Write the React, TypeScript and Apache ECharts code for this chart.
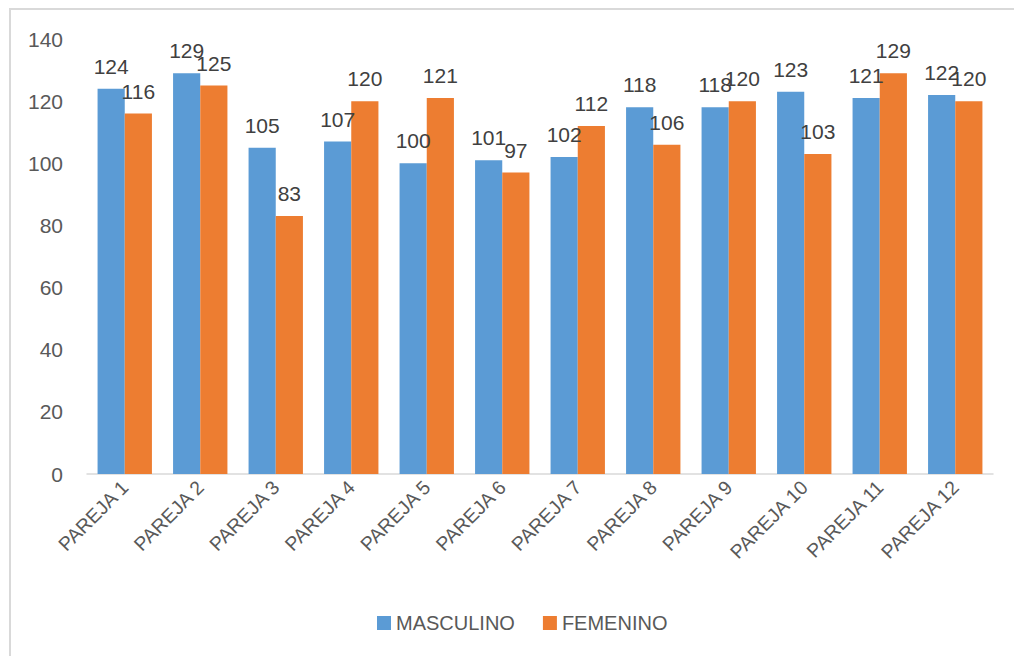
import React, { useEffect, useRef } from "react";
import * as echarts from "echarts";

const categories = ["PAREJA 1", "PAREJA 2", "PAREJA 3", "PAREJA 4", "PAREJA 5", "PAREJA 6", "PAREJA 7", "PAREJA 8", "PAREJA 9", "PAREJA 10", "PAREJA 11", "PAREJA 12"];
const masculino = [124, 129, 105, 107, 100, 101, 102, 118, 118, 123, 121, 122];
const femenino = [116, 125, 83, 120, 121, 97, 112, 106, 120, 103, 129, 120];
const seriesNames = ["MASCULINO", "FEMENINO"];

const FONT = "'Liberation Sans', Arial, sans-serif";

export default function App() {
  const ref = useRef<HTMLDivElement>(null);
  useEffect(() => {
    if (!ref.current) return;
    const chart = echarts.init(ref.current, null, { renderer: "svg" });
    const label = {
      show: true,
      position: "top" as const,
      distance: 12,
      color: "#404040",
      fontSize: 21,
      fontFamily: FONT,
    };
    chart.setOption({
      animation: false,
      backgroundColor: "#ffffff",
      graphic: [
        {
          type: "rect",
          shape: { x: 10, y: 9, width: 1010, height: 660 },
          style: { fill: "none", stroke: "#D9D9D9", lineWidth: 2 },
          silent: true,
        },
      ],
      grid: { left: 87, right: 21, top: 39, bottom: 182, containLabel: false },
      legend: {
        data: seriesNames,
        left: 372,
        top: 608,
        icon: "rect",
        itemWidth: 14,
        itemHeight: 14,
        itemGap: 28,
        textStyle: { color: "#595959", fontSize: 20, fontFamily: FONT },
      },
      xAxis: {
        type: "category",
        data: categories,
        axisLine: { lineStyle: { color: "#D9D9D9", width: 1.5 } },
        axisTick: { show: false },
        axisLabel: {
          rotate: 45,
          color: "#595959",
          fontSize: 19.5,
          fontFamily: FONT,
          margin: 10,
          interval: 0,
        },
      },
      yAxis: {
        type: "value",
        min: 0,
        max: 140,
        interval: 20,
        axisLine: { show: false },
        axisTick: { show: false },
        splitLine: { show: false },
        axisLabel: { color: "#595959", fontSize: 21, fontFamily: FONT, margin: 24 },
      },
      series: [
        {
          name: seriesNames[0],
          type: "bar",
          data: masculino,
          itemStyle: { color: "#5B9BD5" },
          barGap: "0%",
          barCategoryGap: "28%",
          label,
        },
        {
          name: seriesNames[1],
          type: "bar",
          data: femenino,
          itemStyle: { color: "#ED7D31" },
          label,
        },
      ],
    });
    return () => chart.dispose();
  }, []);
  return (
    <div
      ref={ref}
      style={{ position: "fixed", left: 0, top: 0, width: 1014, height: 656 }}
    />
  );
}
